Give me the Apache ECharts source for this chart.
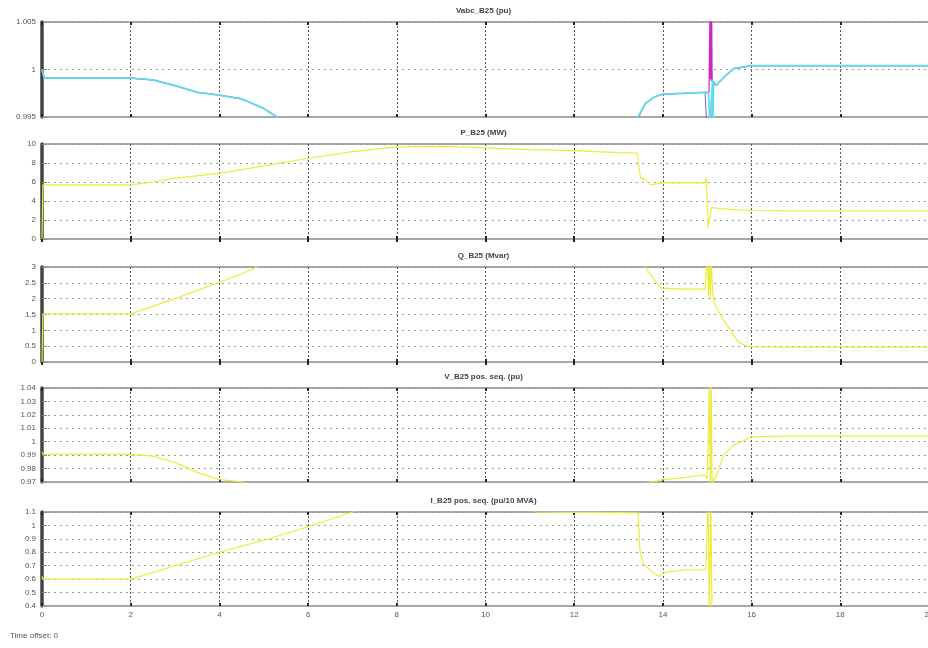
<!DOCTYPE html>
<html><head><meta charset="utf-8">
<script src="https://cdn.jsdelivr.net/npm/echarts@6/dist/echarts.min.js"></script>
<style>html,body{margin:0;padding:0;background:#fff}#c{width:928px;height:648px}</style>
</head><body><div id="c"></div>
<script>
// ---- Data (time in s) ----
const titles = ['Vabc_B25 (pu)', 'P_B25 (MW)', 'Q_B25 (Mvar)', 'V_B25 pos. seq. (pu)', 'I_B25 pos. seq. (pu/10 MVA)'];
const xTicks = [0, 2, 4, 6, 8, 10, 12, 14, 16, 18, 20];

// Panel 1: Vabc phases
const vaT = [0, 0.05, 1, 2, 2.5, 3, 3.5, 4, 4.5, 5, 5.3, 5.6, 13.3, 13.45, 13.6, 13.8, 14, 14.5, 14.95, 14.98, 14.99, 15.1, 15.13, 15.2, 15.4, 15.6, 16, 17, 18, 19, 20];
const vaV = [1.0, 0.9991, 0.9991, 0.9991, 0.9989, 0.9983, 0.9976, 0.9973, 0.9969, 0.9959, 0.9950, 0.9940, 0.9940, 0.9950, 0.9964, 0.9971, 0.9974, 0.9975, 0.9976, 0.9978, 0.9940, 0.9940, 0.9985, 0.9983, 0.9993, 1.0001, 1.0004, 1.0004, 1.0004, 1.0004, 1.0004];
const vbT = [0, 0.05, 1, 2, 2.5, 3, 3.5, 4, 4.5, 5, 5.3, 5.6, 13.3, 13.45, 13.6, 13.8, 14, 14.5, 14.95, 15.04, 15.06, 15.07, 15.08, 15.09, 15.1, 15.11, 15.13, 15.2, 15.4, 15.6, 16, 17, 18, 19, 20];
const vbV = [1.0, 0.9991, 0.9991, 0.9991, 0.9989, 0.9983, 0.9976, 0.9973, 0.9969, 0.9959, 0.9950, 0.9940, 0.9940, 0.9950, 0.9964, 0.9971, 0.9974, 0.9975, 0.9976, 0.9976, 1.0060, 0.9990, 1.0060, 0.9988, 1.0060, 0.9990, 0.9986, 0.9983, 0.9993, 1.0001, 1.0004, 1.0004, 1.0004, 1.0004, 1.0004];
const vcT = [0, 0.05, 1, 2, 2.5, 3, 3.5, 4, 4.5, 5, 5.3, 5.6, 13.3, 13.4, 13.45, 13.6, 13.8, 14, 14.5, 14.95, 15.03, 15.06, 15.1, 15.12, 15.13, 15.14, 15.2, 15.4, 15.6, 16, 17, 18, 19, 20];
const vcV = [1.0, 0.9991, 0.9991, 0.9991, 0.9989, 0.9983, 0.9976, 0.9973, 0.9969, 0.9959, 0.9950, 0.9940, 0.9940, 0.9946, 0.9951, 0.9964, 0.9971, 0.9974, 0.9975, 0.9976, 0.9975, 0.9940, 0.9940, 0.9989, 0.9940, 0.9988, 0.9983, 0.9993, 1.0001, 1.0004, 1.0004, 1.0004, 1.0004, 1.0004];

// Panel 2: P (MW)
const pT = [0, 0.02, 1, 2, 2.5, 3, 4, 5, 6, 7, 8, 9, 10, 11, 12, 13, 13.42, 13.46, 13.5, 13.6, 13.72, 14, 14.5, 14.95, 14.98, 15.02, 15.06, 15.1, 15.3, 15.6, 16, 17, 18, 19, 20];
const pV = [0, 5.7, 5.7, 5.7, 6.0, 6.4, 6.9, 7.7, 8.5, 9.2, 9.7, 9.75, 9.6, 9.4, 9.3, 9.1, 9.05, 7.5, 6.4, 6.3, 5.7, 5.9, 5.9, 5.9, 6.4, 1.2, 1.3, 3.3, 3.2, 3.1, 3.0, 2.95, 2.95, 2.95, 2.95];

// Panel 3: Q (Mvar)
const qT = [0, 0.02, 1, 2, 3, 4, 4.5, 5, 6, 13, 13.5, 13.6, 13.8, 13.96, 14.5, 14.95, 15.0, 15.03, 15.05, 15.07, 15.09, 15.12, 15.17, 15.4, 15.7, 15.85, 16, 17, 18, 19, 20];
const qV = [0, 1.52, 1.52, 1.52, 2.0, 2.52, 2.78, 3.1, 3.6, 3.6, 3.2, 3.0, 2.6, 2.33, 2.3, 2.3, 3.3, 2.1, 3.3, 2.0, 3.3, 2.2, 1.8, 1.26, 0.63, 0.53, 0.48, 0.47, 0.47, 0.47, 0.47];

// Panel 4: V pos. seq. (pu)
const vT = [0, 0.03, 1, 2, 2.5, 3, 3.5, 4, 4.5, 5, 13, 13.73, 14, 14.5, 14.94, 15.0, 15.05, 15.07, 15.09, 15.11, 15.14, 15.2, 15.37, 15.6, 16, 17, 18, 19, 20];
const vV = [0.9925, 0.9905, 0.9905, 0.9905, 0.9893, 0.9845, 0.9772, 0.9718, 0.9702, 0.965, 0.965, 0.970, 0.9716, 0.9735, 0.9752, 0.9725, 1.045, 0.965, 1.045, 0.965, 0.972, 0.9737, 0.990, 0.9976, 1.0036, 1.0043, 1.0043, 1.0043, 1.0043];

// Panel 5: I pos. seq. (pu/10 MVA)
const iT = [0, 0.02, 1, 2, 3, 4, 5, 6, 7, 8, 10, 11.15, 12, 13, 13.44, 13.48, 13.55, 13.67, 13.9, 14.05, 14.5, 14.97, 15.02, 15.05, 15.08, 15.11, 15.13, 16, 20];
const iV = [0.62, 0.6, 0.6, 0.6, 0.7, 0.8, 0.89, 0.99, 1.1, 1.18, 1.2, 1.1, 1.097, 1.095, 1.093, 0.82, 0.72, 0.68, 0.62, 0.65, 0.67, 0.67, 1.2, 0.3, 1.2, 0.3, 0.3, 0.3, 0.3];

// ---- Layout ----
const L = 42, W = 887;
const panels = [
  {top: 22, h: 95, min: 0.995, max: 1.005, step: 0.005},
  {top: 144, h: 95, min: 0, max: 10, step: 2},
  {top: 267, h: 95, min: 0, max: 3, step: 0.5},
  {top: 388, h: 94, min: 0.97, max: 1.04, step: 0.01},
  {top: 512, h: 94, min: 0.4, max: 1.1, step: 0.1}
];
const zip = (t, v) => t.map((x, i) => [x, v[i]]);
const fmt = v => String(parseFloat(v.toFixed(4)));

const grid = [], xAxis = [], yAxis = [], series = [], graphic = [];
panels.forEach((p, k) => {
  grid.push({left: L, width: W, top: p.top, height: p.h, show: true, borderColor: '#a8a8a8', borderWidth: 2, backgroundColor: '#fff', outerBoundsMode: 'none', containLabel: false});
  xAxis.push({type: 'value', gridIndex: k, min: 0, max: 20, interval: 2,
    axisLine: {show: true, onZero: false, lineStyle: {color: '#a8a8a8', width: 2}},
    axisTick: {show: true, inside: true, length: 3, lineStyle: {color: '#222', width: 2}},
    axisLabel: {show: k === 4, fontSize: 8, color: '#555', margin: 5, fontFamily: 'Liberation Sans', hideOverlap: false, showMaxLabel: true, showMinLabel: true},
    splitLine: {show: true, lineStyle: {color: '#555', type: [2, 2], width: 1}}});
  xAxis.push({type: 'value', gridIndex: k, position: 'top', min: 0, max: 20, interval: 2,
    axisLine: {show: false}, axisLabel: {show: false}, splitLine: {show: false},
    axisTick: {show: true, inside: true, length: 3, lineStyle: {color: '#222', width: 2}}});
  yAxis.push({type: 'value', gridIndex: k, min: p.min, max: p.max, interval: p.step,
    axisLine: {show: true, lineStyle: {color: '#444', width: 3.5}},
    axisTick: {show: true, inside: true, length: 5, lineStyle: {color: '#888'}},
    axisLabel: {fontSize: 8, color: '#555', margin: 6, formatter: fmt, fontFamily: 'Liberation Sans'},
    splitLine: {show: true, lineStyle: {color: '#999', type: [2, 4], width: 1}}});
  graphic.push({type: 'text', x: L + W / 2 - 2, y: p.top - 11,
    style: {text: titles[k], fill: '#444', font: 'bold 8px "Liberation Sans"', textAlign: 'center', textVerticalAlign: 'middle'}});
});
graphic.push({type: 'text', x: 10, y: 636, style: {text: 'Time offset: 0', fill: '#555', font: '8px "Liberation Sans"', textVerticalAlign: 'middle'}});

const line = (k, data, color, w) => ({type: 'line', xAxisIndex: 2 * k, yAxisIndex: k, data, showSymbol: false, clip: true, animation: false,
  lineStyle: {color, width: w}, itemStyle: {color}});
const YEL = '#ecec38';
series.push(line(0, zip(vaT, vaV), '#7a5cd0', 1));
series.push(line(0, zip(vbT, vbV), '#c828c8', 1.2));
series.push(line(0, zip(vcT, vcV), '#62dbea', 1.8));
series.push(line(1, zip(pT, pV), YEL, 1.2));
series.push(line(2, zip(qT, qV), YEL, 1.2));
series.push(line(3, zip(vT, vV), YEL, 1.2));
series.push(line(4, zip(iT, iV), YEL, 1.2));

const chart = echarts.init(document.getElementById('c'), null, {renderer: 'canvas'});
chart.setOption({backgroundColor: '#fff', animation: false, grid, xAxis, yAxis, series, graphic});
</script></body></html>
